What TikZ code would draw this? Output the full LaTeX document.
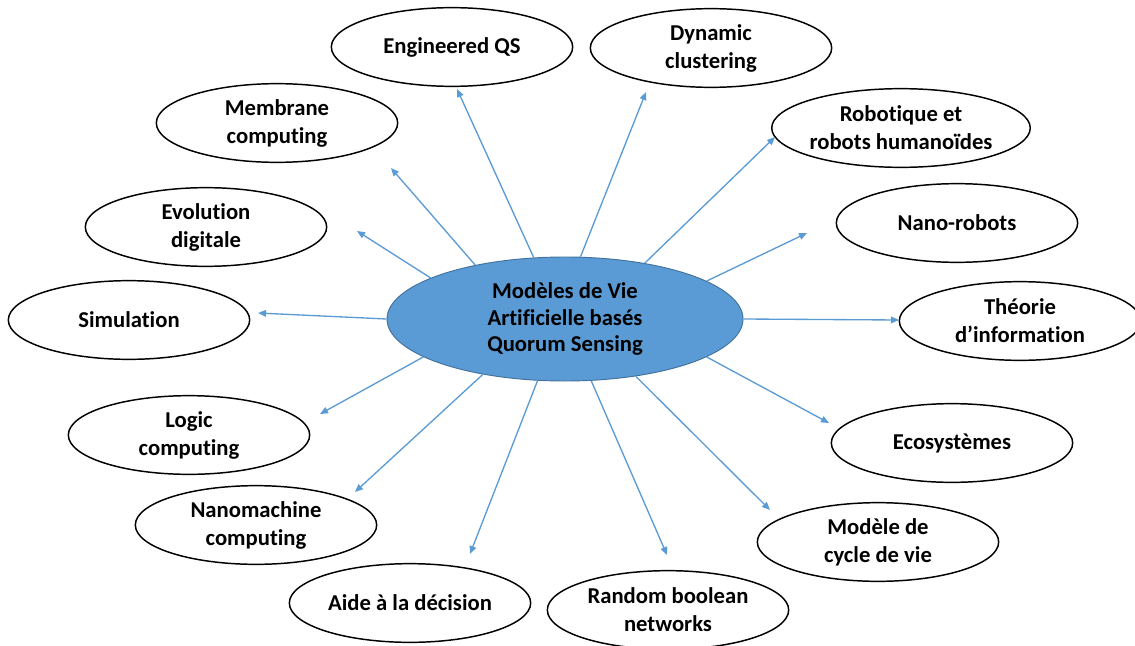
\documentclass[tikz,border=0pt]{standalone}
\usepackage{fontspec}
\setmainfont{Carlito}[RawFeature={-liga;-clig;-calt;-dlig}]
\usepackage{tikz}
\usetikzlibrary{shapes,arrows.meta}
\definecolor{qsblue}{RGB}{91,155,213}
\definecolor{qsborder}{RGB}{65,113,156}

\begin{document}
\begin{tikzpicture}[x=0.75pt, y=-0.75pt,
  theme/.style={ellipse, draw=black, line width=1.1pt, fill=white,
    minimum width=181pt, minimum height=59pt, inner sep=0pt, align=center,
    font=\bfseries\fontsize{17}{21}\selectfont},
  core/.style={ellipse, draw=qsborder, line width=0.7pt, fill=qsblue,
    minimum width=267pt, minimum height=93pt, inner sep=0pt, align=center,
    font=\bfseries\fontsize{17}{20}\selectfont},
  link/.style={->, >={Triangle[length=6pt,width=5pt]}, draw=qsblue, line width=1pt}]
  \useasboundingbox (0,0) rectangle (1135,646);

  % central model
  \node[core] (qs) at (565,319) {Modèles de Vie\\Artificielle basés\\Quorum Sensing};

  % application domains
  \node[theme] (eng)   at (452,47)  {Engineered QS};
  \node[theme] (dyn)   at (711,48)  {Dynamic\\clustering};
  \node[theme] (rob)   at (901,128) {Robotique et\\robots humanoïdes};
  \node[theme] (nano)  at (957,223) {Nano-robots};
  \node[theme] (theo)  at (1020,321) {Théorie\\d’information};
  \node[theme] (eco)   at (952,443) {Ecosystèmes};
  \node[theme] (cycle) at (878,542) {Modèle de\\cycle de vie};
  \node[theme] (rbn)   at (668,610) {Random boolean\\networks};
  \node[theme] (aide)  at (410,603) {Aide à la décision};
  \node[theme] (nanom) at (256,525) {Nanomachine\\computing};
  \node[theme] (logic) at (189,435) {Logic\\computing};
  \node[theme] (sim)   at (129,320) {Simulation};
  \node[theme] (evo)   at (206,227) {Evolution\\digitale};
  \node[theme] (mem)   at (277,123) {Membrane\\computing};

  % arrow ends (they stop short of the ellipses)
  \coordinate (eng-tip)   at (457,89);
  \coordinate (dyn-tip)   at (646,92);
  \coordinate (rob-tip)   at (775,137);
  \coordinate (nano-tip)  at (807,233);
  \coordinate (theo-tip)  at (899,320);
  \coordinate (eco-tip)   at (829,423);
  \coordinate (cycle-tip) at (770,510);
  \coordinate (rbn-tip)   at (667,555);
  \coordinate (aide-tip)  at (470,554);
  \coordinate (nanom-tip) at (355,492);
  \coordinate (logic-tip) at (320,414);
  \coordinate (sim-tip)   at (258,313);
  \coordinate (evo-tip)   at (357,231);
  \coordinate (mem-tip)   at (391,168);

  \draw[link] (qs.117.7) -- (eng-tip);
  \draw[link] (qs.76.4)  -- (dyn-tip);
  \draw[link] (qs.35)    -- (rob-tip);
  \draw[link] (qs.15.5)  -- (nano-tip);
  \draw[link] (qs.0)     -- (theo-tip);
  \draw[link] (qs.-15.3) -- (eco-tip);
  \draw[link] (qs.-39)   -- (cycle-tip);
  \draw[link] (qs.-67.2) -- (rbn-tip);
  \draw[link] (qs.-114)  -- (aide-tip);
  \draw[link] (qs.-146.3) -- (nanom-tip);
  \draw[link] (qs.-165.3) -- (logic-tip);
  \draw[link] (qs.180)   -- (sim-tip);
  \draw[link] (qs.163.5) -- (evo-tip);
  \draw[link] (qs.149)   -- (mem-tip);
\end{tikzpicture}
\end{document}
